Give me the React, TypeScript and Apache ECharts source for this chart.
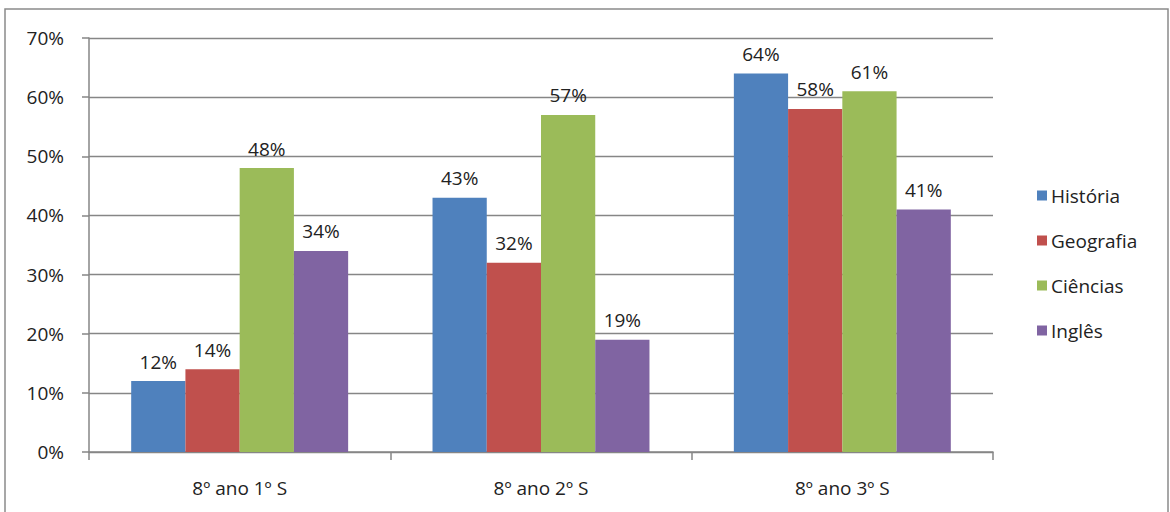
import React, { useEffect, useRef } from "react";
import * as echarts from "echarts";

const categories = ["8º ano 1º S", "8º ano 2º S", "8º ano 3º S"];
const seriesNames = ["História", "Geografia", "Ciências", "Inglês"];
const historia = [12, 43, 64];
const geografia = [14, 32, 58];
const ciencias = [48, 57, 61];
const ingles = [34, 19, 41];
const colors = ["#4F81BD", "#C0504D", "#9BBB59", "#8064A2"];

export default function App() {
  const ref = useRef<HTMLDivElement>(null);
  useEffect(() => {
    if (!ref.current) return;
    const chart = echarts.init(ref.current, null, { renderer: "svg" });
    const values = [historia, geografia, ciencias, ingles];
    const font = "'Open Sans', 'Noto Sans', sans-serif";
    chart.setOption({
      animation: false,
      backgroundColor: "#ffffff",
      textStyle: { fontFamily: font },
      graphic: [
        {
          type: "rect",
          shape: { x: 5, y: 9, width: 1163, height: 510 },
          style: { fill: "none", stroke: "#8a8a8a", lineWidth: 1.5 },
          silent: true,
        },
      ],
      legend: {
        orient: "vertical",
        left: 1032,
        top: 181,
        itemWidth: 10,
        itemHeight: 10,
        itemGap: 26,
        icon: "rect",
        textStyle: { fontSize: 19, color: "#222", fontFamily: font, padding: [0, 0, 0, -1] },
        data: seriesNames,
      },
      grid: { left: 89, top: 38, right: 177, bottom: 60, containLabel: false },
      xAxis: {
        type: "category",
        data: categories,
        axisLine: { lineStyle: { color: "#868686", width: 1.5 } },
        axisTick: { show: true, length: 8, lineStyle: { color: "#868686", width: 1.5 } },
        axisLabel: { fontSize: 19, color: "#222", margin: 26, fontFamily: font },
      },
      yAxis: {
        type: "value",
        min: 0,
        max: 70,
        interval: 10,
        axisLine: { show: true, lineStyle: { color: "#868686", width: 1.5 } },
        axisTick: { show: true, inside: false, length: 7, lineStyle: { color: "#868686", width: 1.5 } },
        axisLabel: { formatter: "{value}%", fontSize: 19, color: "#222", margin: 25, fontFamily: font },
        splitLine: { lineStyle: { color: "#868686", width: 1.3 } },
      },
      series: seriesNames.map((name, i) => ({
        name,
        type: "bar",
        data: values[i],
        barGap: "0%",
        barCategoryGap: "28%",
        itemStyle: { color: colors[i] },
        label: {
          show: true,
          position: "top",
          distance: 10,
          formatter: "{c}%",
          fontSize: 19,
          color: "#222",
          fontFamily: font,
        },
      })),
    });
    return () => chart.dispose();
  }, []);
  return <div ref={ref} style={{ width: 1170, height: 512, position: "absolute", left: 0, top: 0 }} />;
}
